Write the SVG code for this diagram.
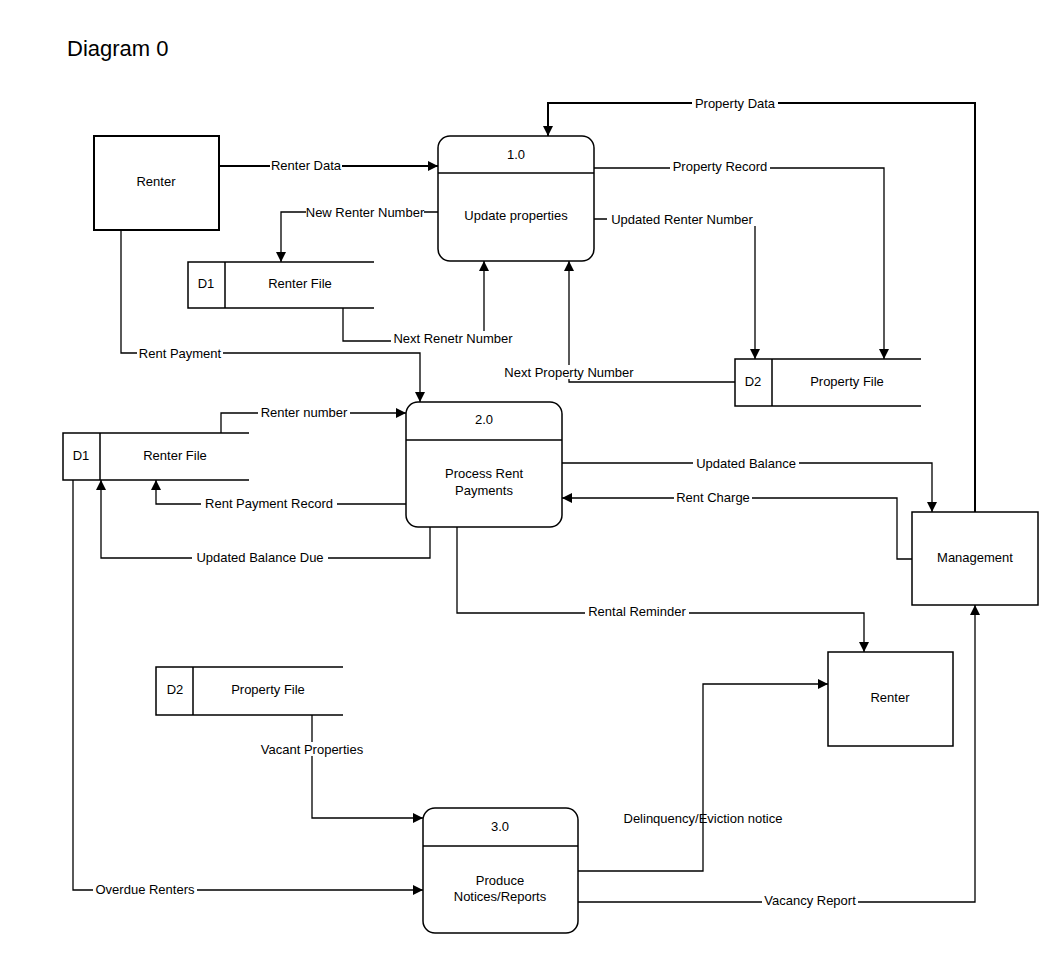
<svg xmlns="http://www.w3.org/2000/svg" width="1062" height="978" viewBox="0 0 1062 978">
<style>
text{font-family:"Liberation Sans",Arial,sans-serif;font-size:13px;fill:#000;text-anchor:middle;dominant-baseline:central}
.bg{fill:#fff}
.c{fill:none;stroke:#000;stroke-width:1.3}
.t{stroke-width:2}
.n{fill:#fff;stroke:#000;stroke-width:1.5}
.s{fill:none;stroke:#000;stroke-width:1.5}
</style>
<defs>
<marker id="a" viewBox="0 0 10 10" refX="10" refY="5" markerWidth="10" markerHeight="10" markerUnits="userSpaceOnUse" orient="auto"><path d="M0,0L10,5L0,10z" fill="#000"/></marker>
</defs>
<rect width="1062" height="978" fill="#fff"/>
<text x="67" y="48" style="font-size:22px;text-anchor:start">Diagram 0</text>
<g id="connectors">
<path class="c t" d="M975,512V103H548V136" marker-end="url(#a)"/>
<path class="c t" d="M219,166H438" marker-end="url(#a)"/>
<path class="c" d="M438,212H281V262" marker-end="url(#a)"/>
<path class="c" d="M343,308V341H484V261" marker-end="url(#a)"/>
<path class="c" d="M735,382H569V261" marker-end="url(#a)"/>
<path class="c" d="M594,168H884V359" marker-end="url(#a)"/>
<path class="c" d="M594,219H755V359" marker-end="url(#a)"/>
<path class="c" d="M121,230V353H420V402" marker-end="url(#a)"/>
<path class="c" d="M221,433V413H406" marker-end="url(#a)"/>
<path class="c" d="M406,504H156V480" marker-end="url(#a)"/>
<path class="c" d="M430,527V558H101V480" marker-end="url(#a)"/>
<path class="c" d="M562,463H932V512" marker-end="url(#a)"/>
<path class="c" d="M912,559H897V498H562" marker-end="url(#a)"/>
<path class="c" d="M457,527V613H864V652" marker-end="url(#a)"/>
<path class="c" d="M312,715V818H423" marker-end="url(#a)"/>
<path class="c" d="M73,480V890H423" marker-end="url(#a)"/>
<path class="c" d="M578,871H703V684H828" marker-end="url(#a)"/>
<path class="c" d="M578,902H975V605" marker-end="url(#a)"/>
<rect class="bg" x="692" y="96" width="86" height="14"/><text x="735" y="103">Property Data</text>
<rect class="bg" x="270" y="159" width="72" height="14"/><text x="306" y="165">Renter Data</text>
<rect class="bg" x="306" y="205" width="118" height="14"/><text x="365" y="212">New Renter Number</text>
<rect class="bg" x="391" y="331" width="124" height="14"/><text x="453" y="338">Next Renetr Number</text>
<rect class="bg" x="500" y="365" width="138" height="14"/><text x="569" y="372">Next Property Number</text>
<rect class="bg" x="670" y="159" width="100" height="14"/><text x="720" y="166">Property Record</text>
<rect class="bg" x="607" y="212" width="150" height="14"/><text x="682" y="219">Updated Renter Number</text>
<rect class="bg" x="137" y="346" width="86" height="14"/><text x="180" y="353">Rent Payment</text>
<rect class="bg" x="258" y="405" width="92" height="14"/><text x="304" y="412">Renter number</text>
<rect class="bg" x="201" y="496" width="136" height="14"/><text x="269" y="503">Rent Payment Record</text>
<rect class="bg" x="192" y="550" width="136" height="14"/><text x="260" y="557">Updated Balance Due</text>
<rect class="bg" x="693" y="456" width="106" height="14"/><text x="746" y="463">Updated Balance</text>
<rect class="bg" x="674" y="490" width="78" height="14"/><text x="713" y="497">Rent Charge</text>
<rect class="bg" x="585" y="604" width="104" height="14"/><text x="637" y="611">Rental Reminder</text>
<rect class="bg" x="257" y="742" width="110" height="14"/><text x="312" y="749">Vacant Properties</text>
<rect class="bg" x="93" y="882" width="104" height="14"/><text x="145" y="889">Overdue Renters</text>
<text x="703" y="818">Delinquency/Eviction notice</text>
<rect class="bg" x="762" y="893" width="96" height="14"/><text x="810" y="900">Vacancy Report</text>
</g>
<g id="renter1"><rect class="n" x="94" y="136" width="125" height="94" style="stroke-width:2"/><text x="156" y="181">Renter</text></g>
<g id="p1"><rect class="n" x="438" y="136" width="156" height="125" rx="12"/><path class="s" d="M438,173H594"/><text x="516" y="154">1.0</text><text x="516" y="215">Update properties</text></g>
<g id="d1a"><path class="s" d="M374,262H188V308H374M225,262V308" style="fill:#fff"/><text x="206" y="283">D1</text><text x="300" y="283">Renter File</text></g>
<g id="d2a"><path class="s" d="M921,359H735V406H921M772,359V406" style="fill:#fff"/><text x="753" y="381">D2</text><text x="847" y="381">Property File</text></g>
<g id="p2"><rect class="n" x="406" y="402" width="156" height="125" rx="12"/><path class="s" d="M406,440H562"/><text x="484" y="419">2.0</text><text x="484" y="473">Process Rent</text><text x="484" y="490">Payments</text></g>
<g id="d1b"><path class="s" d="M249,433H63V480H249M100,433V480" style="fill:#fff"/><text x="81" y="455">D1</text><text x="175" y="455">Renter File</text></g>
<g id="management"><rect class="n" x="912" y="512" width="126" height="93"/><text x="975" y="557">Management</text></g>
<g id="renter2"><rect class="n" x="828" y="652" width="125" height="94"/><text x="890" y="697">Renter</text></g>
<g id="d2b"><path class="s" d="M343,667H156V715H343M193,667V715" style="fill:#fff"/><text x="175" y="689">D2</text><text x="268" y="689">Property File</text></g>
<g id="p3"><rect class="n" x="423" y="808" width="155" height="125" rx="12"/><path class="s" d="M423,846H578"/><text x="500" y="826">3.0</text><text x="500" y="880">Produce</text><text x="500" y="896">Notices/Reports</text></g>
</svg>
